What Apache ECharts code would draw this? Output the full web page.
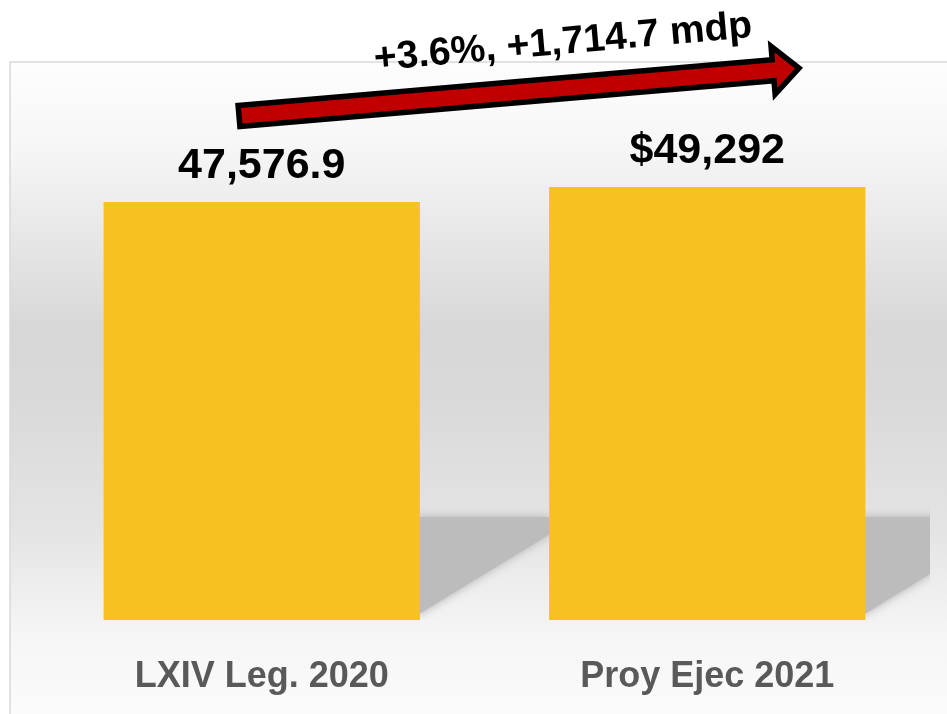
<!DOCTYPE html>
<html>
<head>
<meta charset="utf-8">
<style>
html,body{margin:0;padding:0;background:#fff;}
#chart{width:947px;height:714px;}
</style>
<script src="https://cdn.jsdelivr.net/npm/echarts@6/dist/echarts.min.js"></script>
</head>
<body>
<div id="chart"></div>
<script>
var categories = ['LXIV Leg. 2020', 'Proy Ejec 2021'];
var values = [47576.9, 49292];
var valueLabels = ['47,576.9', '$49,292'];
var changeText = '+3.6%, +1,714.7 mdp';

var FONT = '"Liberation Sans", Arial, sans-serif';
var chart = echarts.init(document.getElementById('chart'), null, {renderer: 'canvas'});

function arrowPoints(x0, y0, x1, y1, bodyHalf, headHalf, headLen) {
  var dx = x1 - x0, dy = y1 - y0;
  var L = Math.sqrt(dx * dx + dy * dy);
  var c = dx / L, s = dy / L;
  var local = [[0, -bodyHalf], [L - headLen, -bodyHalf], [L - headLen, -headHalf], [L, 0],
               [L - headLen, headHalf], [L - headLen, bodyHalf], [0, bodyHalf]];
  return local.map(function (p) {
    return [x0 + p[0] * c - p[1] * s, y0 + p[0] * s + p[1] * c];
  });
}

var shadowData = values.map(function (v, i) { return [i, v]; });

var option = {
  animation: false,
  backgroundColor: '#ffffff',
  grid: {left: 39, right: 17, top: 93, bottom: 94, containLabel: false},
  xAxis: {
    type: 'category',
    data: categories,
    axisLine: {show: false},
    axisTick: {show: false},
    axisLabel: {
      color: '#595959',
      fontFamily: FONT,
      fontWeight: 'bold',
      fontSize: 36,
      margin: 39
    }
  },
  yAxis: {
    type: 'value',
    min: 0,
    max: 60000,
    show: false,
    splitLine: {show: false}
  },
  graphic: [
    {
      type: 'rect',
      z: -10,
      shape: {x: 10, y: 62, width: 950, height: 670},
      style: {
        fill: new echarts.graphic.LinearGradient(0, 0, 0, 1, [
          {offset: 0, color: '#fdfdfd'},
          {offset: 0.12, color: '#f7f7f7'},
          {offset: 0.40, color: '#d7d7d7'},
          {offset: 0.50, color: '#d9d9d9'},
          {offset: 0.70, color: '#e4e4e4'},
          {offset: 0.86, color: '#f6f6f6'},
          {offset: 1, color: '#fcfcfc'}
        ]),
        stroke: '#d9d9d9',
        lineWidth: 1.5
      }
    },
    {
      type: 'polygon',
      z: 100,
      shape: {points: arrowPoints(239, 116, 799, 68, 10.5, 24, 26)},
      style: {fill: '#C00000', stroke: '#000000', lineWidth: 5.5, lineJoin: 'miter'}
    },
    {
      type: 'text',
      z: 101,
      x: 563,
      y: 43,
      rotation: Math.atan2(50, 565),
      style: {
        text: changeText,
        fill: '#000000',
        font: 'bold 39px ' + FONT,
        textAlign: 'center',
        textVerticalAlign: 'middle'
      }
    }
  ],
  series: [
    {
      type: 'custom',
      z: 1,
      clip: true,
      data: shadowData,
      renderItem: function (params, api) {
        var base = api.coord([api.value(0), 0]);
        var band = api.size([1, 0])[0];
        var xR = base[0] + band * 0.355;
        var yB = base[1];
        return {
          type: 'polygon',
          shape: {points: [[xR - 4, yB - 103], [xR + 130, yB - 103], [xR + 130, yB - 86], [xR - 4, yB - 4]]},
          style: {fill: '#bcbcbc', shadowBlur: 10, shadowColor: 'rgba(170,170,170,0.9)'}
        };
      }
    },
    {
      type: 'bar',
      z: 3,
      data: values,
      barWidth: '71%',
      itemStyle: {color: '#F7C221'},
      label: {
        show: true,
        position: 'top',
        distance: 14,
        formatter: function (p) { return valueLabels[p.dataIndex]; },
        color: '#000000',
        fontFamily: FONT,
        fontWeight: 'bold',
        fontSize: 43
      }
    }
  ]
};
chart.setOption(option);
</script>
</body>
</html>
